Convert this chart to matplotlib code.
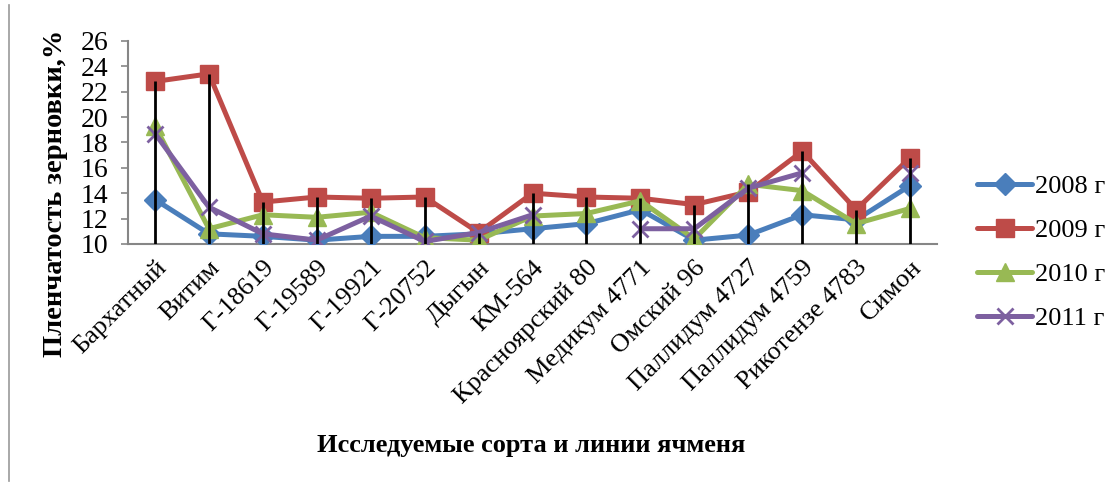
import numpy as np
import matplotlib
matplotlib.use("Agg")
import matplotlib.pyplot as plt
from matplotlib.lines import Line2D

plt.rcParams['font.family'] = ['Liberation Serif', 'DejaVu Serif']

categories = ["Бархатный", "Витим", "Г-18619", "Г-19589", "Г-19921", "Г-20752",
              "Дыгын", "КМ-564", "Красноярский 80", "Медикум 4771", "Омский 96",
              "Паллидум 4727", "Паллидум 4759", "Рикотензе 4783", "Симон"]

y2008 = [13.5, 10.8, 10.6, 10.3, 10.6, 10.6, 10.8, 11.2, 11.6, 12.7, 10.3, 10.7, 12.3, 11.9, 14.6]
y2009 = [22.8, 23.4, 13.3, 13.7, 13.6, 13.7, 10.9, 14.0, 13.7, 13.6, 13.1, 14.1, 17.3, 12.7, 16.8]
y2010 = [19.3, 11.2, 12.3, 12.1, 12.5, 10.5, 10.3, 12.2, 12.4, 13.4, 10.4, 14.7, 14.2, 11.6, 12.8]
y2011 = [18.7, 12.9, 10.8, 10.3, 12.2, 10.2, 10.9, 12.3, np.nan, 11.2, 11.2, 14.4, 15.6, np.nan, 15.6]

series = [
    ("2008 г", y2008, "#4A7EBB", "D", 11),
    ("2009 г", y2009, "#BE4B48", "s", 13),
    ("2010 г", y2010, "#98B954", "^", 13),
    ("2011 г", y2011, "#7D60A0", "x", 12),
]

yticks = [10, 12, 14, 16, 18, 20, 22, 24, 26]

fig = plt.figure(figsize=(11.19, 4.86), dpi=100)
ax = fig.add_axes([0.1144, 0.498, 0.723, 0.418])

x = np.arange(len(categories)) + 0.5

handles = []
for label, vals, color, marker, ms in series:
    vals = np.asarray(vals, dtype=float)
    mew = 2.0 if marker == "x" else 1.0
    h, = ax.plot(x, vals, color=color, lw=3.6, marker=marker, ms=ms,
                 mfc=color, mec=color, mew=mew, label=label, zorder=3,
                 solid_joinstyle='round', solid_capstyle='round')
    handles.append(h)

# drop lines from the highest value in each category down to the axis
stack = np.array([y2008, y2009, y2010, y2011], dtype=float)
tops = np.nanmax(stack, axis=0)
ax.vlines(x, 10, tops, color="black", lw=2.0, zorder=5)

ax.set_xlim(0, len(categories))
ax.set_ylim(10, 26)
ax.set_yticks(yticks)
ax.set_yticklabels([str(v) for v in yticks], fontsize=20)
ax.set_xticks(x)
ax.set_xticklabels(categories, rotation=45, ha="right", va="top",
                   rotation_mode="anchor", fontsize=19)
ax.tick_params(axis="x", length=0, pad=9)
ax.tick_params(axis="y", length=5, color="#868686", width=1.2, pad=9)

for side in ("top", "right"):
    ax.spines[side].set_visible(False)
for side in ("left", "bottom"):
    ax.spines[side].set_color("#868686")
    ax.spines[side].set_linewidth(1.5)

fig.text(0.050, 0.603, "Пленчатость зерновки,%", fontsize=20.5, fontweight="bold",
         rotation=90, ha="center", va="center")
fig.text(0.4745, 0.084, "Исследуемые сорта и линии ячменя", fontsize=19,
         fontweight="bold", ha="center", va="center")

fig.legend(handles=handles, loc="center left", bbox_to_anchor=(0.873, 0.4805),
           frameon=False, fontsize=19, handlelength=2.1, handletextpad=0.12,
           labelspacing=0.78, borderaxespad=0, borderpad=0)

fig.add_artist(Line2D([0.008, 0.008], [0.01, 0.99], color="#999999", lw=1.2,
                      transform=fig.transFigure))

fig.savefig("out.png", dpi=100)
